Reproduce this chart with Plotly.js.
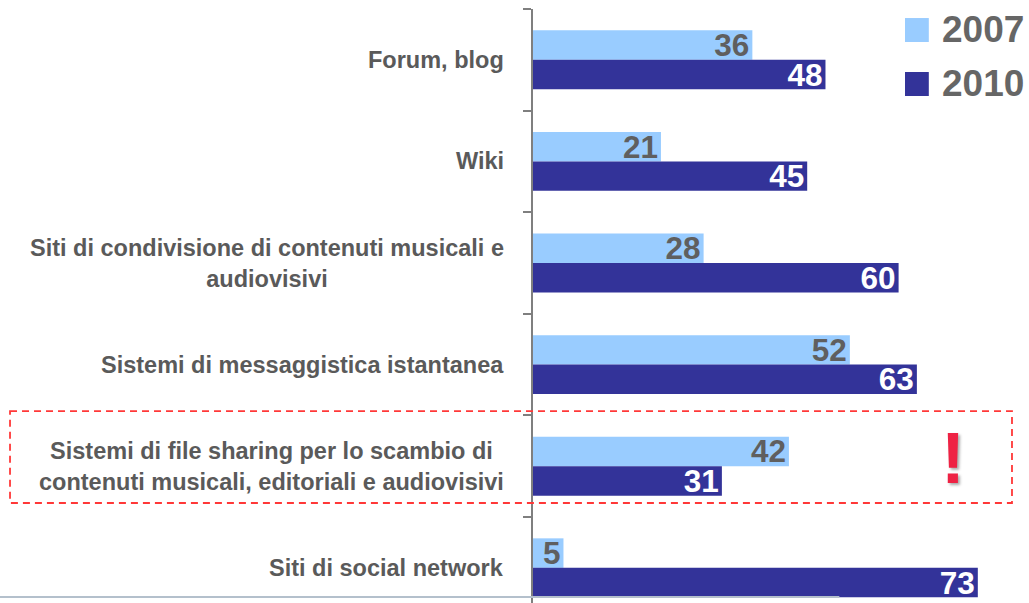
<!DOCTYPE html>
<html>
<head>
<meta charset="utf-8">
<script src="https://cdn.plot.ly/plotly-3.0.1.min.js"></script>
<style>html,body{margin:0;padding:0;background:#fff;}#chart{width:1029px;height:603px;}</style>
</head>
<body>
<div id="chart"></div>
<script>
// ---- data ----
const categories = [
  "Forum, blog",
  "Wiki",
  "Siti di condivisione di contenuti musicali e<br>audiovisivi",
  "Sistemi di messaggistica istantanea",
  "Sistemi di file sharing per lo scambio di<br>contenuti musicali, editoriali e audiovisivi",
  "Siti di social network"
];
const seriesNames = ["2007", "2010"];
const values2007 = [36, 21, 28, 52, 42, 5];
const values2010 = [48, 45, 60, 63, 31, 73];
const highlightIndex = 4;
const highlightMark = "!";

// ---- styling ----
const FONT = "Liberation Sans, Arial, sans-serif";
const LIGHT = "#99ccff";
const DARK = "#333399";
const GREY = "#5f5f5f";
const idx = categories.map((_, i) => i);

const traces = [
  {
    type: "bar", orientation: "h", name: seriesNames[0],
    y: idx, x: values2007, marker: {color: LIGHT},
    text: values2007.map(String), textposition: "inside", insidetextanchor: "end",
    constraintext: "none", textangle: 0,
    textfont: {family: FONT, size: 31.5, color: GREY, weight: "bold"},
    hoverinfo: "skip"
  },
  {
    type: "bar", orientation: "h", name: seriesNames[1],
    y: idx, x: values2010, marker: {color: DARK},
    text: values2010.map(String), textposition: "inside", insidetextanchor: "end",
    constraintext: "none", textangle: 0,
    textfont: {family: FONT, size: 31.5, color: "#ffffff", weight: "bold"},
    hoverinfo: "skip"
  }
];

const plotTop = 9, plotH = 594, band = 101.6;
const yBottom = -0.5 + plotH / band;

const annotations = categories.map((c, i) => ({
  xref: "paper", yref: "y", x: -0.0544, y: i,
  xanchor: "right", yanchor: "middle", align: "center",
  text: c, showarrow: false,
  font: {family: FONT, size: 23.5, color: "#5a5a5a", weight: "bold"}
}));

// legend labels
annotations.push(
  {xref: "paper", yref: "paper", x: 0.8206, y: 0.9663, xanchor: "left", yanchor: "middle",
   text: seriesNames[0], showarrow: false,
   font: {family: FONT, size: 37, color: "#666666", weight: "bold"}},
  {xref: "paper", yref: "paper", x: 0.8206, y: 0.8754, xanchor: "left", yanchor: "middle",
   text: seriesNames[1], showarrow: false,
   font: {family: FONT, size: 37, color: "#666666", weight: "bold"}}
);
// exclamation mark
annotations.push({
  xref: "paper", yref: "y", x: 0.8468, y: highlightIndex - 0.08,
  xanchor: "center", yanchor: "middle", text: highlightMark, showarrow: false,
  font: {family: FONT, size: 72, color: "#ee2244", weight: "bold",
         shadow: "2px 2px 3px rgba(0,0,0,0.35)"}
});

const shapes = [
  {type: "rect", xref: "paper", yref: "paper", x0: 0.75, x1: 0.798, y0: 0.9444, y1: 0.9848,
   fillcolor: LIGHT, line: {width: 0}},
  {type: "rect", xref: "paper", yref: "paper", x0: 0.75, x1: 0.798, y0: 0.8535, y1: 0.8939,
   fillcolor: DARK, line: {width: 0}},
  {type: "rect", xref: "paper", yref: "y", x0: -1.0544, x1: 0.9657,
   y0: highlightIndex - 0.543, y1: highlightIndex + 0.362,
   line: {color: "#ff3838", width: 1.8, dash: "7px,5px"}, fillcolor: "rgba(0,0,0,0)"},
  {type: "line", xref: "paper", yref: "paper", x0: -1.0746, x1: 0.6176, y0: 0.0101, y1: 0.0101,
   line: {color: "#b4c0cc", width: 2}}
];

const layout = {
  width: 1029, height: 603,
  margin: {l: 533, r: 0, t: plotTop, b: 0, pad: 0},
  paper_bgcolor: "#ffffff", plot_bgcolor: "#ffffff",
  showlegend: false,
  barmode: "group", bargap: 0.42, bargroupgap: 0,
  xaxis: {range: [0, 81.4], visible: false, fixedrange: true},
  yaxis: {
    range: [yBottom, -0.5],
    tickmode: "array",
    tickvals: [-0.5, 0.5, 1.5, 2.5, 3.5, 4.5],
    showticklabels: false,
    ticks: "outside", ticklen: 8, tickwidth: 2, tickcolor: "#7f7f7f",
    showline: true, linecolor: "#7f7f7f", linewidth: 2,
    showgrid: false, zeroline: false, fixedrange: true
  },
  annotations: annotations,
  shapes: shapes
};

Plotly.newPlot("chart", traces, layout, {displayModeBar: false, staticPlot: true});
</script>
</body>
</html>
